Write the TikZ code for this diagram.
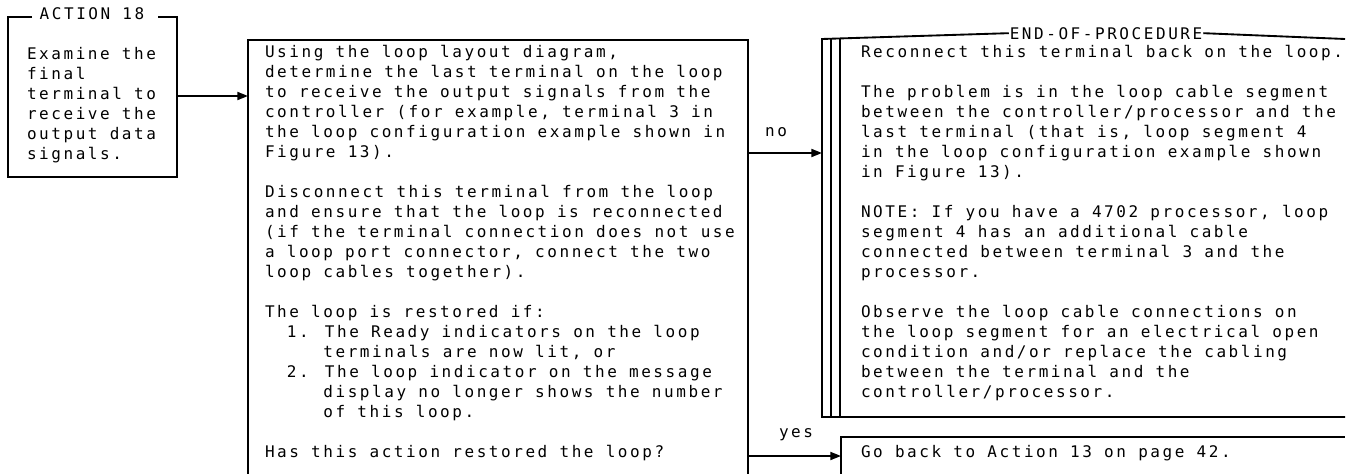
\documentclass[tikz,border=0pt]{standalone}
\usepackage{fontspec}
\newfontfamily\lgfont[LetterSpace=16]{DejaVu Sans Mono}
\usetikzlibrary{arrows.meta}
\begin{document}
\begin{tikzpicture}[x=0.75pt,y=-0.75pt,
  every node/.style={inner sep=0pt, outer sep=0pt},
  txt/.style={anchor=north west, align=left, font=\lgfont\fontsize{12}{15}\selectfont},
  lbl/.style={font=\lgfont\fontsize{12}{15}\selectfont},
  ln/.style={line width=1.4pt},
  arr/.style={line width=1.4pt, -{Triangle[length=8pt,width=6pt]}}]
\useasboundingbox (0,0) rectangle (1358,474);

% ---------- box 1 ----------
\node[lbl, anchor=base] (act) at (92,20) {ACTION 18};
\draw[ln] (32,17) -- (8,17) -- (8,177) -- (177,177) -- (177,17) -- (158,17);
\node[txt] (t1) at (27,46) {\strut Examine the\\final\\terminal to\\receive the\\output data\\signals.};
\coordinate (b1r) at (177,96);

% ---------- box 2 ----------
\draw[ln] (248,474) -- (248,40) -- (748,40) -- (748,474);
\coordinate (b2l) at (248,96);
\coordinate (b2no) at (748,153);
\coordinate (b2yes) at (748,456);
\node[txt] (t2) at (265,43) {\strut Using the loop layout diagram,\\
determine the last terminal on the loop\\
to receive the output signals from the\\
controller (for example, terminal 3 in\\
the loop configuration example shown in\\
Figure 13).\\[15pt]
Disconnect this terminal from the loop\\
and ensure that the loop is reconnected\\
(if the terminal connection does not use\\
a loop port connector, connect the two\\
loop cables together).\\[15pt]
The loop is restored if:\\
\phantom{12}1. The Ready indicators on the loop\\
\phantom{12345}terminals are now lit, or\\
\phantom{12}2. The loop indicator on the message\\
\phantom{12345}display no longer shows the number\\
\phantom{12345}of this loop.\\[15pt]
Has this action restored the loop?};

% ---------- box 3 (end of procedure) ----------
\node[lbl, anchor=base] (eop) at (1106,40) {END-OF-PROCEDURE};
\draw[ln] (eop.west) ++(-1,-1) -- (822,39) -- (822,417) -- (1345,417);
\draw[ln] (eop.east) ++(1,-1) -- (1345,39);
\draw[ln] (831,39) -- (831,417);
\draw[ln] (840,39) -- (840,417);
\coordinate (b3l) at (822,153);
\node[txt] (t3) at (861,43) {\strut Reconnect this terminal back on the loop.\\[15pt]
The problem is in the loop cable segment\\
between the controller/processor and the\\
last terminal (that is, loop segment 4\\
in the loop configuration example shown\\
in Figure 13).\\[15pt]
NOTE: If you have a 4702 processor, loop\\
segment 4 has an additional cable\\
connected between terminal 3 and the\\
processor.\\[15pt]
Observe the loop cable connections on\\
the loop segment for an electrical open\\
condition and/or replace the cabling\\
between the terminal and the\\
controller/processor.};

% ---------- box 4 ----------
\draw[ln] (841,474) -- (841,437) -- (1345,437);
\coordinate (b4l) at (841,456);
\node[txt] (t4) at (861,443) {\strut Go back to Action 13 on page 42.};

% ---------- connectors ----------
\draw[arr] (b1r) -- (b2l);
\draw[arr] (b2no) -- (b3l);
\draw[arr] (b2yes) -- (b4l);
\node[lbl] (no) at (776,132) {no};
\node[lbl] (yes) at (796,435) {yes};
\end{tikzpicture}
\end{document}
